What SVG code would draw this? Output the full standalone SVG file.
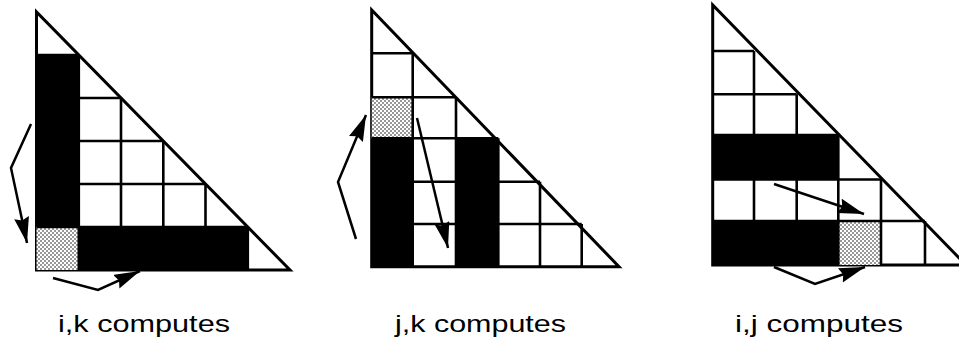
<svg xmlns="http://www.w3.org/2000/svg" width="959" height="343" viewBox="0 0 959 343">
<defs>
<pattern id="dots" width="4" height="4" patternUnits="userSpaceOnUse">
<rect width="4" height="4" fill="#fff"/>
<circle cx="1" cy="1" r="0.75" fill="#000"/>
<circle cx="3" cy="3" r="0.75" fill="#000"/>
</pattern>
<marker id="ah" markerUnits="userSpaceOnUse" markerWidth="28" markerHeight="16" refX="26" refY="7.5" orient="auto" viewBox="0 0 28 16">
<path d="M0,0 L26,7.5 L0,15 L3,7.5 z" fill="#000"/>
</marker>
</defs>
<style>
.tri{fill:#fff;stroke:#000;stroke-width:3;stroke-linejoin:miter}
.grid{stroke:#000;stroke-width:2.6;fill:none}
.blk{fill:#000}
.stip{fill:url(#dots)}
.arr{fill:none;stroke:#000;stroke-width:2.5;marker-end:url(#ah)}
.lbl{font-family:"Liberation Sans",Arial,sans-serif;font-size:24px;fill:#000}
</style>

<g id="panel-ik">
<polygon class="tri" points="36.5,12 36.5,270 290,270"/>
<rect class="stip" x="36.5" y="227" width="42.3" height="43"/>
<path class="grid" d="M36.5,55H78.8 M36.5,98H121 M36.5,141H163.3 M36.5,184H205.5 M36.5,227H247.8 M78.8,55V270 M121,98V270 M163.3,141V270 M205.5,184V270 M247.8,227V270"/>
<rect class="blk" x="36.5" y="55" width="42.3" height="172"/>
<rect class="blk" x="78.8" y="227" width="169" height="43"/>
<text class="lbl" x="58" y="332" textLength="172" lengthAdjust="spacingAndGlyphs">i,k computes</text>
</g>

<g id="panel-jk">
<polygon class="tri" points="371.7,10 371.7,266.7 619,266.7"/>
<rect class="stip" x="371.7" y="97.3" width="41" height="41"/>
<path class="grid" d="M371.7,53.3H412.7 M371.7,97.3H456 M371.7,138.3H498.3 M371.7,181.7H540 M371.7,224H581.7 M412.7,53.3V266.7 M456,97.3V266.7 M498.3,138.3V266.7 M540,181.7V266.7 M581.7,224V266.7"/>
<rect class="blk" x="371.7" y="138.3" width="41" height="128.4"/>
<rect class="blk" x="456" y="138.3" width="42.3" height="128.4"/>
<text class="lbl" x="395" y="332" textLength="171" lengthAdjust="spacingAndGlyphs">j,k computes</text>
</g>

<g id="panel-ij">
<polygon class="tri" points="712.7,5 712.7,265 966,265"/>
<rect class="stip" x="838.3" y="221" width="42.7" height="44"/>
<path class="grid" d="M712.7,51H754 M712.7,94.3H796.7 M712.7,135H838.3 M712.7,179.5H881 M712.7,221H925 M754,51V265 M796.7,94.3V265 M838.3,135V265 M881,179.5V265 M925,221V265"/>
<rect class="blk" x="712.7" y="135" width="125.6" height="44.5"/>
<rect class="blk" x="712.7" y="221" width="125.6" height="44"/>
<text class="lbl" x="735" y="332" textLength="168" lengthAdjust="spacingAndGlyphs">i,j computes</text>
</g>

<g id="connectors">
<polyline class="arr" points="31,124 11,168 27,243"/>
<polyline class="arr" points="53,278 98,290 140,271"/>
<polyline class="arr" points="356,239 338,182 366,115"/>
<polyline class="arr" points="417,118 448,248"/>
<polyline class="arr" points="774,184 864,214"/>
<polyline class="arr" points="774,267 815,284 865,267"/>
</g>
</svg>
